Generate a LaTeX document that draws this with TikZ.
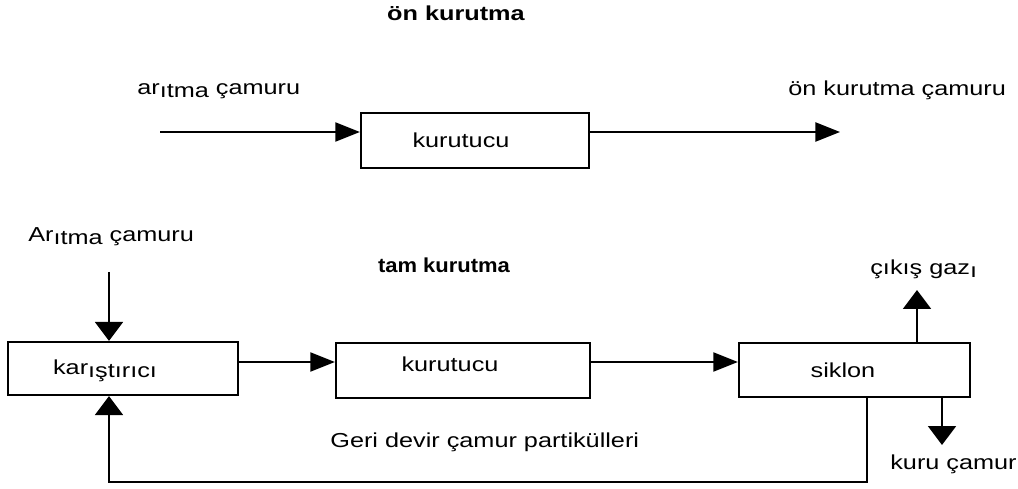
\documentclass[tikz,border=0pt]{standalone}
\usepackage{fontspec}
\setmainfont{Liberation Sans}[FakeStretch=1.25]
\usetikzlibrary{arrows.meta}
% lowered letters, as set in the printed labels
\newcommand\dn[1]{\raisebox{-1.7pt}{#1}}
\tikzset{
  lbl/.style={inner sep=0pt, font=\fontsize{11.5}{13}\selectfont},
  unit/.style={draw, line width=1.3pt, inner sep=0pt, font=\fontsize{11.5}{13}\selectfont},
  flow/.style={line width=1.3pt},
  harr/.style={flow, -{Triangle[length=14pt, width=10.8pt]}},
  varr/.style={flow, -{Triangle[length=10.8pt, width=15.9pt]}},
}
\begin{document}
\begin{tikzpicture}[x=0.02cm, y=-0.02cm]
\useasboundingbox (0,0) rectangle (1018,489);

% ---- pre-drying ----
\node[lbl, anchor=base] (h1) at (456,21) {\bfseries ön kurutma};
\node[lbl, anchor=base west] (in1) at (137,95) {ar\dn{ıtma} çamuru};
\node[lbl, anchor=base west] (out1) at (788,96) {ön kurutma çamuru};
\node[unit, minimum width=4.56cm, minimum height=1.1cm,
      label={[lbl, xshift=-0.28cm]center:kurutucu}] (k1) at (475,140.5) {};
\coordinate (a0) at (160,132);
\coordinate (a1) at (840,132);
\draw[harr] (a0) -- (a0 -| k1.west);
\draw[harr] (k1.east |- a0) -- (a1);

% ---- full drying ----
\node[lbl, anchor=base west] (in2) at (28,242) {Ar\dn{ıtma} çamuru};
\node[lbl, anchor=base] (h2) at (444,273) {\scalebox{0.87}[1]{\bfseries tam kurutma}};
\node[lbl, anchor=base west] (gasl) at (870,275) {çıkış gaz\dn{ı}};
\node[lbl, anchor=base west] (dryl) at (890,470) {kuru çamur};
\node[lbl, anchor=base west] (retl) at (330,448) {Geri devir çamur partikülleri};

\node[unit, minimum width=4.6cm, minimum height=1.06cm,
      label={[lbl, xshift=-0.36cm, yshift=-0.04cm]center:kar\dn{ıştırıcı}}] (mix) at (123,368.5) {};
\node[unit, minimum width=5.08cm, minimum height=1.1cm,
      label={[lbl, xshift=-0.26cm, yshift=0.12cm]center:kurutucu}] (k2) at (463,370.5) {};
\node[unit, minimum width=4.62cm, minimum height=1.08cm,
      label={[lbl, xshift=-0.23cm]center:siklon}] (sik) at (854.5,370) {};

\coordinate (row) at (0,362);
\coordinate (src) at (109,272);
\coordinate (gas) at (917,290);
\coordinate (dry) at (942,445);
\coordinate (retx) at (867,482);
\coordinate (ret) at (109,482);

\draw[varr] (src) -- (src |- mix.north);
\draw[harr] (mix.east |- row) -- (k2.west |- row);
\draw[harr] (k2.east |- row) -- (sik.west |- row);
\draw[varr] (sik.north -| gas) -- (gas);
\draw[varr] (sik.south -| dry) -- (dry);
\draw[varr] (sik.south -| retx) -- (retx) -- (ret) -- (ret |- mix.south);
\end{tikzpicture}
\end{document}
